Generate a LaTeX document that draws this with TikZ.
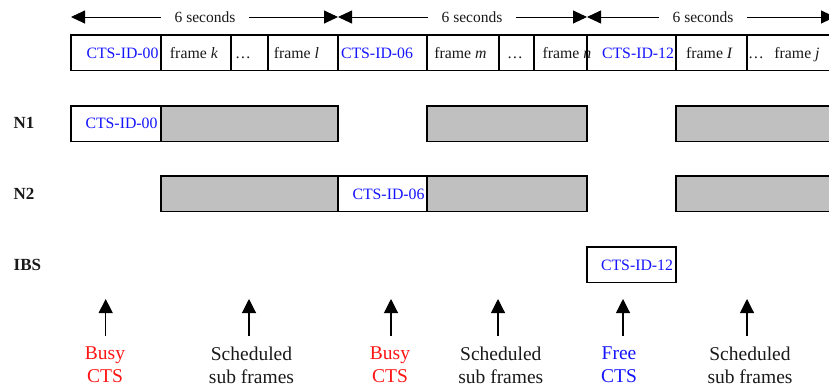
\documentclass[tikz,border=0pt]{standalone}
\usepackage{fontspec}
\setmainfont{Liberation Serif}
\usetikzlibrary{arrows.meta}
\definecolor{ctsblue}{RGB}{20,20,255}
\definecolor{busyred}{RGB}{255,20,20}
\definecolor{slotgray}{RGB}{192,192,192}
\definecolor{inkgray}{RGB}{25,25,25}
\begin{document}
\begin{tikzpicture}[x=1pt,y=-1pt,
  cellbox/.style={draw=black, line width=1.1pt, minimum height=35.5pt, inner sep=0pt, outer sep=0pt, anchor=north west},
  graybox/.style={cellbox, fill=slotgray, line width=1.4pt},
  whitebox/.style={cellbox, fill=white, line width=1.2pt},
  smalltxt/.style={font=\fontsize{15.8}{18}\selectfont, inner sep=0pt, anchor=base, text=inkgray},
  ctstxt/.style={smalltxt, text=ctsblue},
  rowlbl/.style={font=\bfseries\fontsize{17}{18}\selectfont, inner sep=0pt, anchor=base west, text=inkgray},
  sectxt/.style={font=\fontsize{15.5}{18}\selectfont, fill=white, inner xsep=14pt, inner ysep=1pt, text=inkgray},
  secarrow/.style={line width=0.9pt, {Triangle[length=14pt,width=13pt]}-{Triangle[length=14pt,width=13pt]}},
  uparrow/.style={line width=1.1pt, -{Triangle[length=14pt,width=14pt]}},
  bottxt/.style={font=\fontsize{19.5}{22.5}\selectfont, align=center, inner sep=0pt, anchor=north, text=inkgray},
]
\useasboundingbox (0,0) rectangle (829,389);
\clip (0,0) rectangle (829,389);

% ---- time arrows ----
\coordinate (a0) at (71,17);
\coordinate (a1) at (338,17);
\coordinate (a2) at (587,17);
\coordinate (a3) at (835,17);
\draw[secarrow] (a0) -- (a1);
\draw[secarrow] (a1) -- (a2);
\draw[secarrow] (a2) -- (a3);
\node[sectxt] (s1) at (205,17) {6 seconds};
\node[sectxt] (s2) at (472,17) {6 seconds};
\node[sectxt] (s3) at (703,17) {6 seconds};

% ---- frame row ----
\node[cellbox, minimum width=90pt] (c00) at (71,35) {};
\node[cellbox, minimum width=70pt] (ck)  at (161,35) {};
\node[cellbox, minimum width=37pt] (cd1) at (231,35) {};
\node[cellbox, minimum width=70pt] (cl)  at (268,35) {};
\node[cellbox, minimum width=89pt] (c06) at (338,35) {};
\node[cellbox, minimum width=72pt] (cm)  at (427,35) {};
\node[cellbox, minimum width=35pt] (cd2) at (499,35) {};
\node[cellbox, minimum width=53pt] (cn)  at (534,35) {};
\node[cellbox, minimum width=89pt] (c12) at (587,35) {};
\node[cellbox, minimum width=71pt] (ci)  at (676,35) {};
\node[cellbox, minimum width=110pt] (cj) at (747,35) {};

\node[ctstxt]   (t00) at (122.5,58) {CTS-ID-00};
\node[smalltxt] (tk)  at (194,58) {frame \textit{k}};
\node[smalltxt] (td1) at (243,58) {…};
\node[smalltxt] (tl)  at (296.5,58) {frame \textit{l}};
\node[ctstxt]   (t06) at (377,58) {CTS-ID-06};
\node[smalltxt] (tm)  at (460.5,58) {frame \textit{m}};
\node[smalltxt] (td2) at (515,58) {…};
\node[smalltxt] (tn)  at (567,58) {frame \textit{n}};
\node[ctstxt]   (t12) at (638,58) {CTS-ID-12};
\node[smalltxt] (ti)  at (709.5,58) {frame \textit{I}};
\node[smalltxt] (td3) at (756,58) {…};
\node[smalltxt] (tj)  at (797,58) {frame \textit{j}};
\draw[line width=1.1pt] (cn.north east) -- (cn.south east);

% ---- N1 row ----
\node[rowlbl] (n1) at (13.5,128) {N1};
\node[whitebox, minimum width=90pt] (n1a) at (71,106) {};
\node[graybox, minimum width=177pt] (n1b) at (161,106) {};
\node[graybox, minimum width=160pt] (n1c) at (427,106) {};
\node[graybox, minimum width=180pt] (n1d) at (676,106) {};
\node[ctstxt] (n1t) at (121.5,128.5) {CTS-ID-00};

% ---- N2 row ----
\node[rowlbl] (n2) at (13.5,199) {N2};
\node[graybox, minimum width=177pt] (n2a) at (161,176) {};
\node[whitebox, minimum width=89pt] (n2b) at (338,176) {};
\node[graybox, minimum width=160pt] (n2c) at (427,176) {};
\node[graybox, minimum width=180pt] (n2d) at (676,176) {};
\node[ctstxt] (n2t) at (388.5,199) {CTS-ID-06};

% ---- IBS row ----
\node[rowlbl] (ibs) at (13.5,270) {IBS};
\node[whitebox, minimum width=89pt] (ibsa) at (587,247) {};
\node[ctstxt] (ibst) at (637,270) {CTS-ID-12};

% ---- bottom arrows ----
\coordinate (u1b) at (105.7,336); \coordinate (u1t) at (105.7,299);
\coordinate (u2b) at (249,336);   \coordinate (u2t) at (249,299);
\coordinate (u3b) at (391,336);   \coordinate (u3t) at (391,299);
\coordinate (u4b) at (498,336);   \coordinate (u4t) at (498,299);
\coordinate (u5b) at (623,336);   \coordinate (u5t) at (623,299);
\coordinate (u6b) at (747,336);   \coordinate (u6t) at (747,299);
\draw[uparrow] (u1b) -- (u1t);
\draw[uparrow] (u2b) -- (u2t);
\draw[uparrow] (u3b) -- (u3t);
\draw[uparrow] (u4b) -- (u4t);
\draw[uparrow] (u5b) -- (u5t);
\draw[uparrow] (u6b) -- (u6t);

\node[bottxt, text=busyred] (b1) at (105,347) {Busy\\CTS};
\node[bottxt] (b2) at (251.5,347) {Scheduled\\sub frames};
\node[bottxt, text=busyred] (b3) at (390,347) {Busy\\CTS};
\node[bottxt] (b4) at (500.8,347) {Scheduled\\sub frames};
\node[bottxt, text=ctsblue] (b5) at (619,347) {Free\\CTS};
\node[bottxt] (b6) at (750,347) {Scheduled\\sub frames};
\end{tikzpicture}
\end{document}
